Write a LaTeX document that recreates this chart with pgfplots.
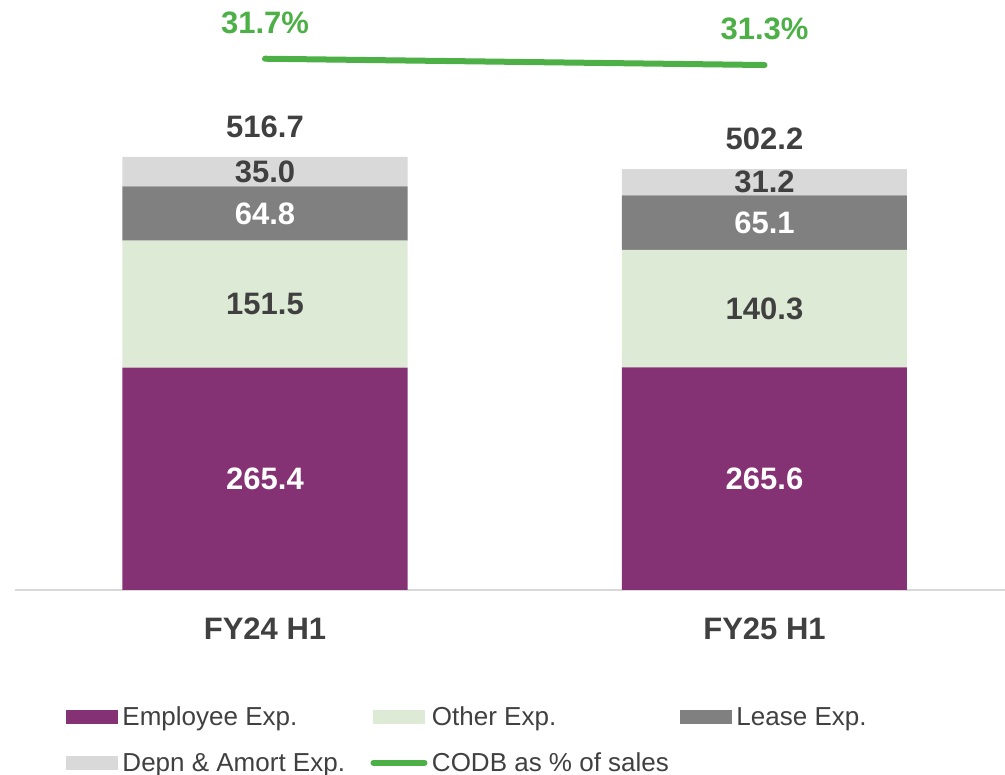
\documentclass[border=0pt]{standalone}
\usepackage{fontspec}
\setmainfont{Liberation Sans}
\usepackage{pgfplots}
\usepackage{pgfplotstable}
\pgfplotsset{compat=1.18}
\definecolor{emp}{RGB}{132,50,115}
\definecolor{oth}{RGB}{221,235,214}
\definecolor{lea}{RGB}{128,128,128}
\definecolor{dep}{RGB}{217,217,217}
\definecolor{codb}{RGB}{76,176,70}
\definecolor{txt}{RGB}{64,64,64}
\definecolor{axl}{RGB}{217,217,217}

\pgfplotstableread{
x emp oth lea dep tot codb
0 265.4 151.5 64.8 35.0 516.7 31.7
1 265.6 140.3 65.1 31.2 502.2 31.3
}\data

\newcommand\lab{\bfseries\fontsize{31}{36}\selectfont}

\pgfplotsset{
 base/.style={scale only axis, width=990pt, height=590pt, at={(15pt,185pt)}, anchor=south west,
   xmin=-0.5005, xmax=1.4815, clip=false,
   /pgf/number format/fixed, /pgf/number format/fixed zerofill, /pgf/number format/precision=1,
   /pgf/number format/assume math mode=true},
}

\begin{document}
\begin{tikzpicture}
\begin{axis}[base, ymin=0, ymax=704,
 ybar stacked, bar width=285pt,
 axis y line=none, ytick=\empty, axis x line*=bottom,
 x axis line style={draw=axl, line width=1.5pt, -},
 xtick={0,1}, xticklabels={FY24 H1, FY25 H1},
 major tick length=0pt,
 xticklabel style={anchor=base, yshift=-50pt, font=\lab, text=txt},
 nodes near coords, point meta=explicit,
 nodes near coords style={anchor=center, font=\lab},
 legend columns=3,
 legend style={at={(0.0515,-0.1949)}, anchor=north west, draw=none, fill=none,
   inner sep=0pt, outer sep=0pt, font=\fontsize{26}{31}\selectfont, text=txt,
   row sep=21pt, cells={anchor=base west},
   /tikz/every odd column/.append style={column sep=2.5pt},
   /tikz/every even column/.append style={column sep=0pt}},
]
\addplot[fill=emp, draw=none, nodes near coords style={text=white},
  legend image code/.code={\fill[emp] (0pt,1.5pt) rectangle (52pt,15.5pt);}]
  table[x=x, y=emp, meta=emp] {\data};
\addlegendentry{\makebox[246pt][l]{Employee Exp.}}
\addplot[fill=oth, draw=none, nodes near coords style={text=txt},
  legend image code/.code={\fill[oth] (0pt,1.5pt) rectangle (52pt,15.5pt);}]
  table[x=x, y=oth, meta=oth] {\data};
\addlegendentry{\makebox[246pt][l]{Other Exp.}}
\addplot[fill=lea, draw=none, nodes near coords style={text=white},
  legend image code/.code={\fill[lea] (0pt,1.5pt) rectangle (52pt,15.5pt);}]
  table[x=x, y=lea, meta=lea] {\data};
\addlegendentry{\makebox[246pt][l]{Lease Exp.}}
\addplot[fill=dep, draw=none, nodes near coords style={text=txt},
  legend image code/.code={\fill[dep] (0pt,1.5pt) rectangle (52pt,15.5pt);}]
  table[x=x, y=dep, meta=dep] {\data};
\addlegendentry{\makebox[246pt][l]{Depn \& Amort Exp.}}
\addlegendimage{legend image code/.code={\draw[codb, line width=6pt, line cap=round] (0pt,8.5pt) -- (51pt,8.5pt);}}
\addlegendentry{\makebox[246pt][l]{CODB as \% of sales}}
\end{axis}

\begin{axis}[base, ymin=0, ymax=704, hide axis]
\addplot[draw=none, nodes near coords, point meta=explicit,
  nodes near coords style={anchor=center, yshift=30pt, font=\lab, text=txt}]
  table[x=x, y=tot, meta=tot] {\data};
\end{axis}

\begin{axis}[base, ymin=-2.03, ymax=35.43, hide axis]
\addplot[codb, line width=6pt, line cap=round, nodes near coords, point meta=explicit,
  nodes near coords={\pgfmathprintnumber{\pgfplotspointmeta}\%},
  nodes near coords style={anchor=center, yshift=36pt, font=\lab, text=codb}]
  table[x=x, y=codb, meta=codb] {\data};
\end{axis}
\pgfresetboundingbox
\useasboundingbox (0,0) rectangle (1005pt,775pt);
\end{tikzpicture}
\end{document}
